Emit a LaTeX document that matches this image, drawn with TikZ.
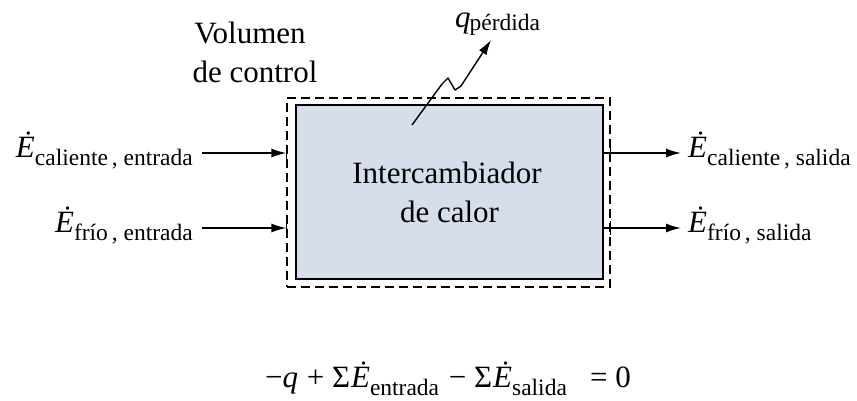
\documentclass[tikz,border=0pt]{standalone}
\usepackage{fontspec}
\setmainfont{Liberation Serif}
\usetikzlibrary{arrows.meta}
\definecolor{boxfill}{HTML}{D7DEEB}
\newcommand{\Ed}{\textit{\.E}}
\newcommand{\sbs}[1]{\raisebox{-8pt}{\fontsize{23.5}{24}\selectfont #1}}
\tikzset{
  txt/.style={font=\fontsize{31}{39}\selectfont, inner sep=0pt},
  arr/.style={line width=1.4pt, -{Latex[length=15pt,width=9pt]}},
  tick/.style={line width=1.2pt},
}
\begin{document}
\begin{tikzpicture}[x=1pt,y=-1pt]
\useasboundingbox (0,0) rectangle (857,400);
% control volume and exchanger
\node[draw, line width=1.3pt, dash pattern=on 9pt off 5pt, minimum width=323pt, minimum height=189pt, inner sep=0pt] (cv) at (448.5,192.5) {};
\node[draw, line width=1.8pt, fill=boxfill, minimum width=307pt, minimum height=174pt, inner sep=0pt] (hx) at (449.5,192) {};
\node[txt, anchor=base] (t1) at (447,183) {Intercambiador};
\node[txt, anchor=base] (t2) at (449.5,222) {de calor};
% control volume label
\node[txt, anchor=base] (v1) at (250,43) {Volumen};
\node[txt, anchor=base] (v2) at (255,82) {de control};
% inlet labels
\node[txt, anchor=base east] (lin1) at (193,157) {\Ed\sbs{caliente\,, entrada}};
\node[txt, anchor=base east] (lin2) at (193,232) {\Ed\sbs{frío\,, entrada}};
% outlet labels
\node[txt, anchor=base west] (lout1) at (688,157) {\Ed\sbs{caliente\,, salida}};
\node[txt, anchor=base west] (lout2) at (688,232) {\Ed\sbs{frío\,, salida}};
% inlet arrows
\coordinate (a1) at (202,153);
\coordinate (a2) at (202,228);
\draw[arr] (a1) -- (a1 -| cv.west);
\draw[arr] (a2) -- (a2 -| cv.west);
\draw[tick] ([yshift=-7pt]a1 -| cv.west) -- ([yshift=7pt]a1 -| cv.west);
\draw[tick] ([yshift=-7pt]a2 -| cv.west) -- ([yshift=7pt]a2 -| cv.west);
% outlet arrows
\coordinate (b1) at (681,153);
\coordinate (b2) at (681,228);
\draw[arr] (b1 -| hx.east) -- (b1);
\draw[arr] (b2 -| hx.east) -- (b2);
\draw[tick] ([yshift=-7pt]b1 -| cv.east) -- ([yshift=7pt]b1 -| cv.east);
\draw[tick] ([yshift=-7pt]b2 -| cv.east) -- ([yshift=7pt]b2 -| cv.east);
% heat loss
\coordinate (q0) at (412,125);
\coordinate (q1) at (491,40);
\draw[arr, line join=round] (q0) -- (442,84) -- (448,78) -- (455,90) -- (461,86) -- (q1);
\node[txt, anchor=base west] (ql) at (455,27) {\textit{q}\kern-1pt\raisebox{-3pt}{\fontsize{23.5}{24}\selectfont pérdida}};
% balance equation
\node[txt, anchor=base] (eq) at (448,387) {−\textit{q}\kern1pt\ +\ Σ\kern1pt\Ed\sbs{entrada}\kern2pt\ −\ Σ\kern1pt\Ed\sbs{salida}\ \ \ =\ 0};
\end{tikzpicture}
\end{document}
